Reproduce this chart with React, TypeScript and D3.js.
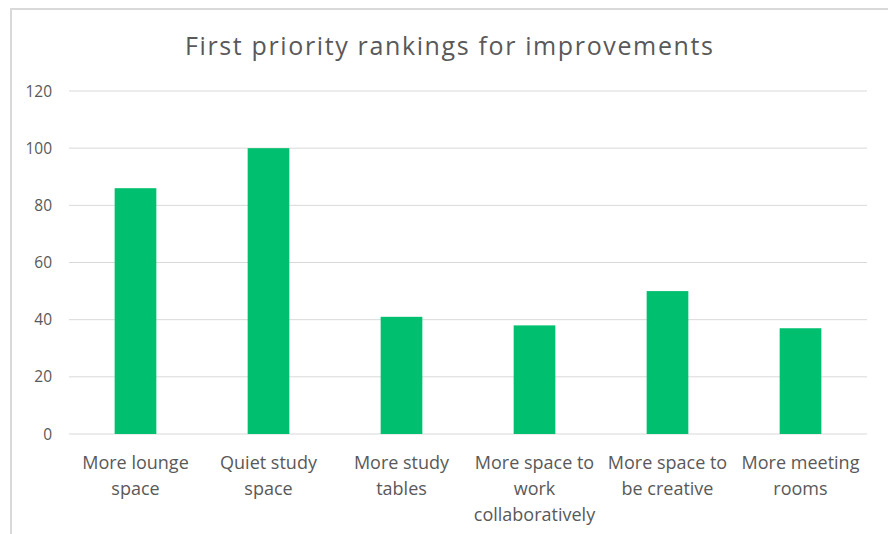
import React from "react";
import * as d3 from "d3";

const categories = [
  "More lounge\nspace",
  "Quiet study\nspace",
  "More study\ntables",
  "More space to\nwork\ncollaboratively",
  "More space to\nbe creative",
  "More meeting\nrooms",
];
const values = [86, 100, 41, 38, 50, 37];
const yTicks = [0, 20, 40, 60, 80, 100, 120];
const title = "First priority rankings for improvements";

const W = 888;
const H = 534;
const FONT = "'Open Sans', 'Liberation Sans', sans-serif";

export default function App() {
  const x = d3
    .scaleBand<string>()
    .domain(categories)
    .range([69, 867])
    .paddingInner(2.19 / 3.19)
    .paddingOuter(2.19 / 3.19 / 2);
  const y = d3.scaleLinear().domain([0, 120]).range([434, 91]);

  return (
    <svg
      width={W}
      height={H}
      style={{ position: "absolute", left: 0, top: 0, display: "block" }}
    >
      <rect x={0} y={0} width={W} height={H} fill="#fff" />
      <rect
        x={11}
        y={9}
        width={W + 10}
        height={H + 10}
        fill="#fff"
        stroke="#d9d9d9"
        strokeWidth={2}
      />
      <text
        x={185}
        y={55}
        textLength={528}
        lengthAdjust="spacing"
        fontFamily={FONT}
        fontSize={25}
        fill="#595959"
      >
        {title}
      </text>
      {yTicks.map((t) => (
        <g key={t}>
          <line
            x1={69}
            x2={867}
            y1={y(t)}
            y2={y(t)}
            stroke="#d9d9d9"
            strokeWidth={1}
          />
          <text
            x={52}
            y={y(t) + 5.5}
            textAnchor="end"
            fontFamily={FONT}
            fontSize={15.5}
            fill="#595959"
          >
            {t}
          </text>
        </g>
      ))}
      {categories.map((c, i) => (
        <rect
          key={c}
          x={x(c)}
          y={y(values[i])}
          width={x.bandwidth()}
          height={y(0) - y(values[i])}
          fill="#00C070"
        />
      ))}
      {categories.map((c) => {
        const cx = (x(c) as number) + x.bandwidth() / 2;
        return (
          <text
            key={c}
            textAnchor="middle"
            fontFamily={FONT}
            fontSize={18}
            fill="#595959"
          >
            {c.split("\n").map((line, j) => (
              <tspan key={j} x={cx} y={468.5 + j * 26}>
                {line}
              </tspan>
            ))}
          </text>
        );
      })}
    </svg>
  );
}
